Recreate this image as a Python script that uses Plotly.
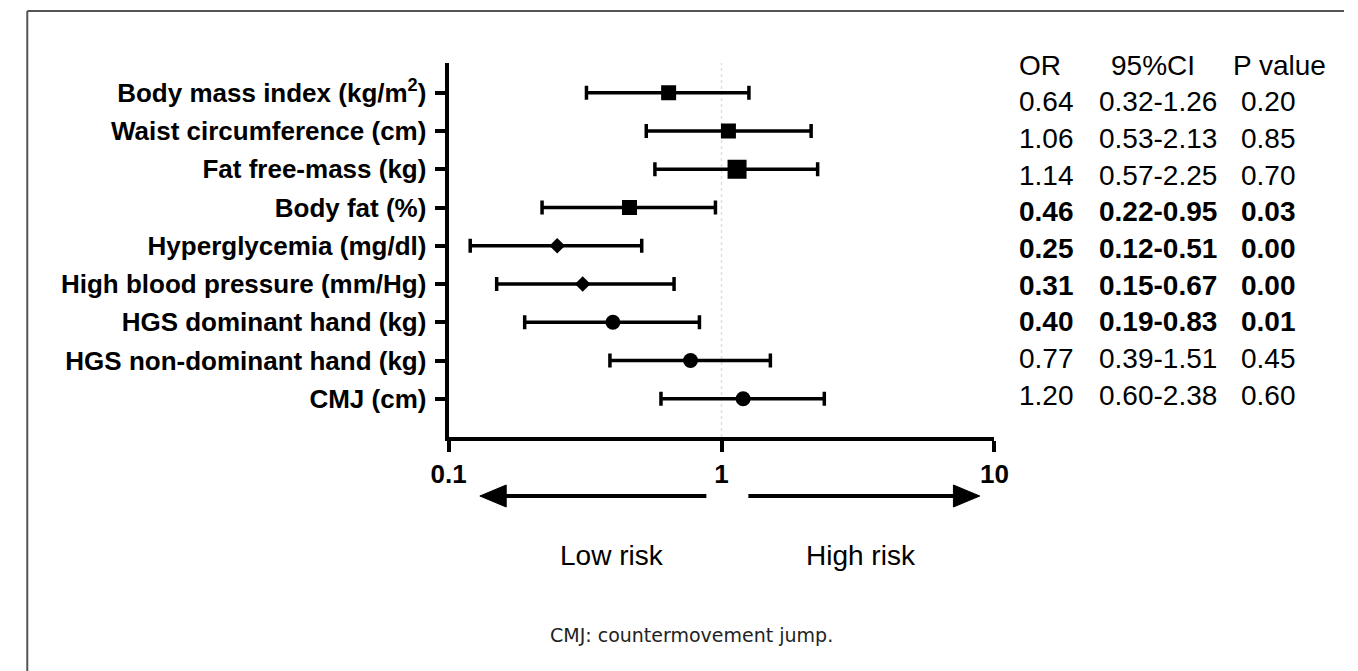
import plotly.graph_objects as go

W, H = 1358, 671

labels = [
    "Body mass index (kg/m<sup>2</sup>)",
    "Waist circumference (cm)",
    "Fat free-mass (kg)",
    "Body fat (%)",
    "Hyperglycemia (mg/dl)",
    "High blood pressure (mm/Hg)",
    "HGS dominant hand (kg)",
    "HGS non-dominant hand (kg)",
    "CMJ (cm)",
]
odds = [0.64, 1.06, 1.14, 0.46, 0.25, 0.31, 0.40, 0.77, 1.20]
ci_low = [0.32, 0.53, 0.57, 0.22, 0.12, 0.15, 0.19, 0.39, 0.60]
ci_high = [1.26, 2.13, 2.25, 0.95, 0.51, 0.67, 0.83, 1.51, 2.38]
p_values = ["0.20", "0.85", "0.70", "0.03", "0.00", "0.00", "0.01", "0.45", "0.60"]
significant = [False, False, False, True, True, True, True, False, False]
tick_vals = [0.1, 1, 10]
tick_text = ["0.1", "1", "10"]

FONT = "Liberation Sans, Arial, sans-serif"

def px(x):
    return x / W

def py(y):
    return 1 - y / H

rows = list(range(len(labels)))

fig = go.Figure()

symbols = ["square"] * 4 + ["diamond"] * 2 + ["circle"] * 3
sizes = [15, 15, 19, 15, 12, 12, 15, 15, 15]

fig.add_trace(go.Scatter(
    x=odds, y=rows, mode="markers",
    marker=dict(symbol=symbols, size=sizes, color="black", opacity=1, line=dict(width=0)),
    error_x=dict(type="data", symmetric=False,
                 array=[h - o for h, o in zip(ci_high, odds)],
                 arrayminus=[o - l for o, l in zip(odds, ci_low)],
                 color="black", thickness=3.5, width=7),
    showlegend=False, hoverinfo="skip",
))

fig.update_xaxes(
    type="log", range=[-1, 1], domain=[px(441), px(1000)],
    showline=True, linewidth=4, linecolor="black",
    ticks="outside", ticklen=11, tickwidth=4, tickcolor="black",
    tickvals=tick_vals, ticktext=tick_text,
    tickfont=dict(family=FONT, size=26, color="black", weight="bold"),
    showgrid=False, zeroline=False, anchor="y",
)
fig.update_yaxes(
    range=[9.0, -0.78], domain=[py(437), py(63)],
    showline=True, linewidth=4, linecolor="black",
    ticks="outside", ticklen=10, tickwidth=4, tickcolor="black",
    tickvals=rows, ticktext=labels,
    tickfont=dict(family=FONT, size=26, color="black", weight="bold"),
    ticklabelstandoff=3,
    showgrid=False, zeroline=False, anchor="x",
)

ay = py(496)
hh = 11 / H
shapes = [
    dict(type="line", xref="x", yref="y domain", x0=1, x1=1, y0=0, y1=1,
         line=dict(color="#e0e0e0", width=1.5, dash="dot"), layer="below"),
    dict(type="line", xref="paper", yref="paper", x0=px(9.5), x1=px(9.5), y0=0, y1=py(11),
         line=dict(color="#555555", width=2)),
    dict(type="line", xref="paper", yref="paper", x0=px(9.5), x1=1, y0=py(11), y1=py(11),
         line=dict(color="#555555", width=2)),
    # low-risk arrow
    dict(type="line", xref="paper", yref="paper", x0=px(705), x1=px(495), y0=ay, y1=ay,
         line=dict(color="black", width=4)),
    dict(type="path", xref="paper", yref="paper",
         path=f"M {px(473)},{ay} L {px(500)},{ay + hh} L {px(500)},{ay - hh} Z",
         fillcolor="black", line=dict(color="black", width=1)),
    # high-risk arrow
    dict(type="line", xref="paper", yref="paper", x0=px(748), x1=px(962), y0=ay, y1=ay,
         line=dict(color="black", width=4)),
    dict(type="path", xref="paper", yref="paper",
         path=f"M {px(985)},{ay} L {px(958)},{ay + hh} L {px(958)},{ay - hh} Z",
         fillcolor="black", line=dict(color="black", width=1)),
]

annotations = []
TS = 28
for txt, x in [("OR", 1023), ("95%CI", 1117), ("P value", 1242)]:
    annotations.append(dict(text=txt, x=px(x), y=py(65), xref="paper", yref="paper",
                            xanchor="left", yanchor="middle", showarrow=False,
                            font=dict(family=FONT, size=TS, color="black")))
for i in rows:
    yy = py(101.7 + 36.7 * i)
    vals = [f"{odds[i]:.2f}", f"{ci_low[i]:.2f}-{ci_high[i]:.2f}", p_values[i]]
    for txt, x in zip(vals, [1023, 1105, 1250]):
        annotations.append(dict(text=f"<b>{txt}</b>" if significant[i] else txt,
                                x=px(x), y=yy, xref="paper", yref="paper",
                                xanchor="left", yanchor="middle", showarrow=False,
                                font=dict(family=FONT, size=TS, color="black")))

annotations.append(dict(text="Low risk", x=px(608), y=py(555), xref="paper", yref="paper",
                        xanchor="center", yanchor="middle", showarrow=False,
                        font=dict(family=FONT, size=28, color="black")))
annotations.append(dict(text="High risk", x=px(863), y=py(555), xref="paper", yref="paper",
                        xanchor="center", yanchor="middle", showarrow=False,
                        font=dict(family=FONT, size=28, color="black")))
annotations.append(dict(text="CMJ: countermovement jump.", x=px(690), y=py(635),
                        xref="paper", yref="paper", xanchor="center", yanchor="middle",
                        showarrow=False,
                        font=dict(family="DejaVu Sans, Verdana, sans-serif", size=19, color="#222222")))

fig.update_layout(
    width=W, height=H, margin=dict(l=0, r=0, t=0, b=0),
    paper_bgcolor="white", plot_bgcolor="white",
    shapes=shapes, annotations=annotations,
)

fig.write_html("out.html")
